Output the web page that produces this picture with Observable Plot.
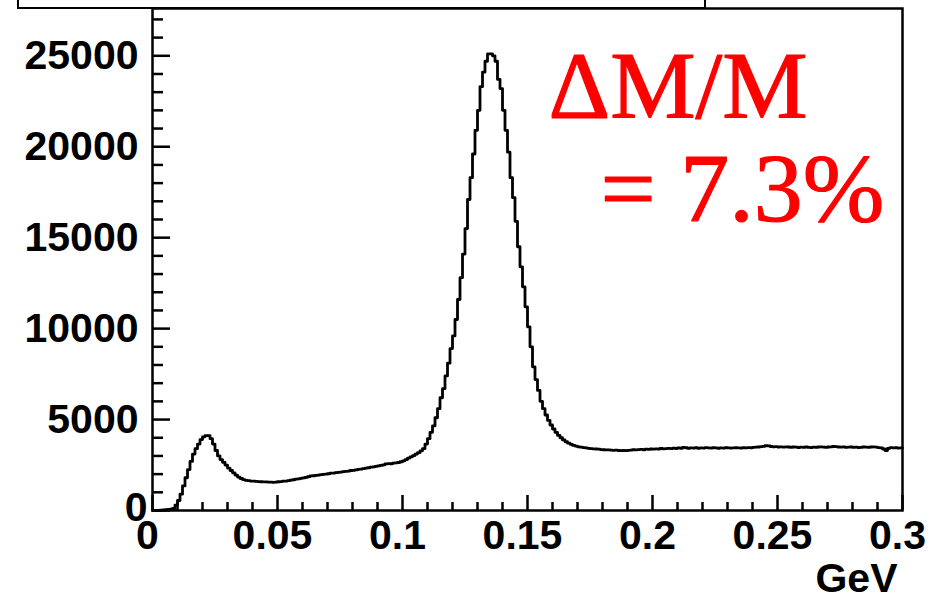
<!DOCTYPE html>
<html><head><meta charset="utf-8">
<script src="https://cdn.jsdelivr.net/npm/d3@7"></script>
<script src="https://cdn.jsdelivr.net/npm/@observablehq/plot@0.6"></script>
<style>
html,body{margin:0;padding:0;background:#fff;}
#wrap{position:relative;width:946px;height:599px;overflow:hidden;}
#box{position:absolute;left:17px;top:-20px;width:689px;height:29px;border:2.5px solid #000;box-sizing:border-box;}
#chart{position:absolute;left:0;top:0;}
</style></head><body><div id="wrap"><div id="chart"></div><div id="box"></div></div>
<script>
// Histogram binning (GeV)
const binStart = 0;
const binWidth = 0.001;
// Entries per bin (300 bins from 0 to 0.3 GeV)
const counts = [
  0, 0, 10, 20, 30, 50, 60, 80, 110, 300,
  550, 900, 1350, 1800, 2250, 2700, 3100, 3400, 3650, 3900,
  4050, 4120, 4120, 3950, 3650, 3300, 3000, 2800, 2650, 2500,
  2330, 2200, 2070, 1950, 1840, 1760, 1700, 1660, 1640, 1620,
  1610, 1600, 1590, 1580, 1570, 1570, 1560, 1560, 1550, 1560,
  1580, 1590, 1610, 1620, 1640, 1670, 1690, 1720, 1740, 1770,
  1790, 1820, 1860, 1900, 1910, 1930, 1950, 1970, 1990, 2000,
  2020, 2050, 2060, 2080, 2100, 2110, 2140, 2150, 2170, 2200,
  2210, 2230, 2260, 2280, 2300, 2330, 2350, 2380, 2400, 2430,
  2450, 2480, 2510, 2560, 2580, 2570, 2600, 2620, 2640, 2680,
  2730, 2800, 2880, 2950, 3020, 3100, 3180, 3280, 3400, 3650,
  3950, 4300, 4650, 5100, 5600, 6200, 6700, 7400, 8100, 8900,
  9600, 10500, 11600, 12800, 14100, 15500, 17100, 18300, 19600, 20900,
  22000, 23300, 24100, 24700, 25100, 25100, 25000, 24700, 23700, 23200,
  22000, 20900, 19700, 18300, 17200, 15900, 14500, 13400, 12300, 11200,
  10100, 9000, 7900, 7200, 6600, 6000, 5600, 5250, 4950, 4700,
  4480, 4300, 4130, 4000, 3880, 3780, 3700, 3640, 3580, 3540,
  3500, 3480, 3460, 3440, 3420, 3400, 3390, 3380, 3370, 3350,
  3340, 3330, 3330, 3320, 3310, 3320, 3300, 3290, 3300, 3290,
  3310, 3320, 3340, 3330, 3350, 3360, 3340, 3370, 3360, 3380,
  3370, 3390, 3380, 3410, 3390, 3400, 3420, 3400, 3430, 3410,
  3440, 3420, 3470, 3450, 3420, 3440, 3430, 3450, 3420, 3440,
  3430, 3460, 3440, 3430, 3450, 3440, 3420, 3440, 3430, 3450,
  3440, 3430, 3440, 3450, 3440, 3430, 3450, 3440, 3460, 3450,
  3470, 3480, 3490, 3510, 3530, 3560, 3550, 3520, 3500, 3510,
  3490, 3500, 3480, 3500, 3490, 3470, 3490, 3480, 3460, 3480,
  3470, 3490, 3470, 3460, 3480, 3470, 3490, 3500, 3480, 3470,
  3490, 3500, 3520, 3510, 3490, 3480, 3500, 3470, 3480, 3490,
  3470, 3480, 3460, 3470, 3490, 3480, 3470, 3490, 3500, 3480,
  3460, 3440, 3380, 3300, 3420, 3460, 3440, 3450, 3430, 3440
];
// Axis ticks
const xMajorTicks = [0, 0.05, 0.1, 0.15, 0.2, 0.25, 0.3];
const xMinorTicks = [0.01, 0.02, 0.03, 0.04, 0.06, 0.07, 0.08, 0.09, 0.11, 0.12, 0.13, 0.14,
  0.16, 0.17, 0.18, 0.19, 0.21, 0.22, 0.23, 0.24, 0.26, 0.27, 0.28, 0.29];
const yMajorTicks = [0, 5000, 10000, 15000, 20000, 25000];
const yMinorTicks = [1000, 2000, 3000, 4000, 6000, 7000, 8000, 9000, 11000, 12000, 13000, 14000,
  16000, 17000, 18000, 19000, 21000, 22000, 23000, 24000, 26000, 27000];
const xDomain = [0, 0.3];
const yDomain = [0, 27600];
const xTitle = "GeV";
const annotationLines = ["ΔM/M", "= 7.3%"];

const points = counts.map((c, i) => ({x: binStart + i * binWidth, y: c}));
points.push({x: binStart + counts.length * binWidth, y: counts[counts.length - 1]});

const sans = "'Liberation Sans', Arial, Helvetica, sans-serif";
const serif = "'Liberation Serif', 'Times New Roman', serif";
const fmt = d => String(d);

const chart = Plot.plot({
  width: 946,
  height: 599,
  marginLeft: 152,
  marginRight: 44,
  marginTop: 8,
  marginBottom: 89,
  x: {domain: xDomain, label: null},
  y: {domain: yDomain, label: null},
  style: {fontFamily: sans, background: "transparent", color: "#000", overflow: "visible"},
  marks: [
    Plot.line(points, {x: "x", y: "y", curve: "step-after", stroke: "#000", strokeWidth: 2.8}),
    Plot.axisX(xMinorTicks, {tickSize: -8, strokeWidth: 2.5, tickFormat: () => ""}),
    Plot.axisX(xMajorTicks, {tickSize: -15, strokeWidth: 2.5, tickFormat: () => ""}),
    Plot.axisX(xMajorTicks, {tickSize: 0, tickPadding: 9, dx: -5, fontSize: 41, fontWeight: "bold", tickFormat: fmt}),
    Plot.axisY(yMinorTicks, {tickSize: -11, strokeWidth: 2.5, tickFormat: () => ""}),
    Plot.axisY(yMajorTicks, {tickSize: -18, strokeWidth: 2.5, tickFormat: () => ""}),
    Plot.axisY(yMajorTicks.filter(d => d > 0), {tickSize: 0, tickPadding: 14, fontSize: 41, fontWeight: "bold", tickFormat: fmt}),
    Plot.axisY(yMajorTicks.filter(d => d === 0), {tickSize: 0, tickPadding: 5, dy: -3, fontSize: 41, fontWeight: "bold", tickFormat: fmt}),
    Plot.frame({stroke: "#000", strokeWidth: 2.5}),
    Plot.text([xTitle], {text: d => d, frameAnchor: "bottom-right", dx: -5, dy: 68, lineAnchor: "middle", textAnchor: "end", fontSize: 41, fontWeight: "bold"}),
    Plot.text([annotationLines[0]], {text: d => d, frameAnchor: "top-left", dx: 396, dy: 79, lineAnchor: "middle", textAnchor: "start", fontSize: 96, fontFamily: serif, fill: "#ff0000", stroke: "#ff0000", strokeWidth: 1.2}),
    Plot.text([annotationLines[1]], {text: d => d, frameAnchor: "top-left", dx: 448, dy: 181, lineAnchor: "middle", textAnchor: "start", fontSize: 98, fontFamily: serif, fill: "#ff0000", stroke: "#ff0000", strokeWidth: 1.2})
  ]
});
document.getElementById("chart").appendChild(chart);
</script>
</body></html>
